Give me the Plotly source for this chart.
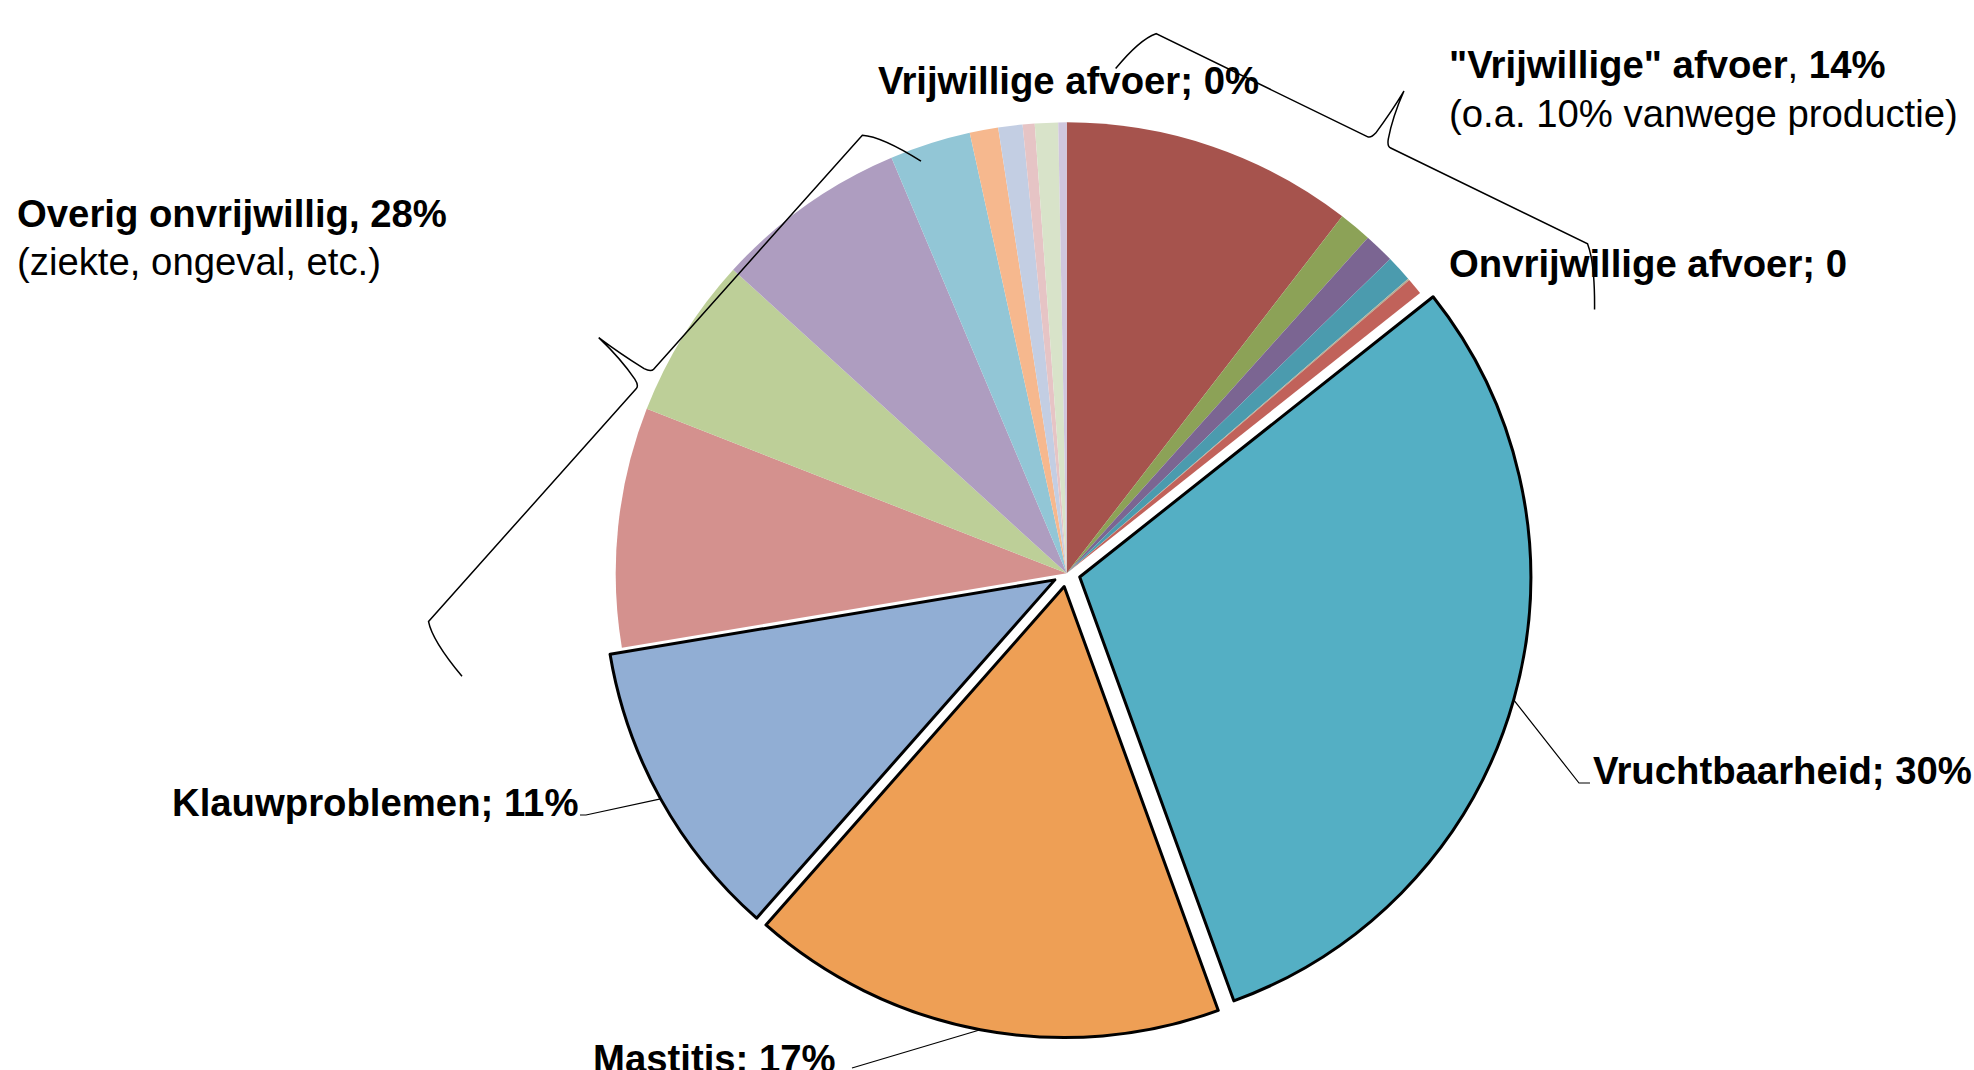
import math
import plotly.graph_objects as go

# ---------------- data ----------------
categories = [
    "Vrijwillig: productie", "Vrijwillig 2", "Vrijwillig 3", "Vrijwillig 4", "Vrijwillig 5", "Vrijwillig 6",
    "Vruchtbaarheid", "Mastitis", "Klauwproblemen",
    "Overig 1", "Overig 2", "Overig 3", "Overig 4", "Overig 5", "Overig 6", "Overig 7", "Overig 8", "Overig 9",
]
values = [10.46, 1.18, 1.09, 0.94, 0.06, 0.60,
          30.12, 17.05, 10.86,
          8.58, 5.81, 6.90, 2.90, 1.02, 0.87, 0.43, 0.83, 0.30]
colors = ["#A6534D", "#8CA257", "#7B6592", "#4B9BAE", "#B3AE94", "#C1625A",
          "#54AFC4", "#EE9F55", "#91AED4",
          "#D4918E", "#BDCF98", "#AE9DC0", "#92C6D6", "#F6B88E", "#C3CEE3", "#E6C4C5", "#D8E3C9", "#CFC6DD"]
pulled = ["Vruchtbaarheid", "Mastitis", "Klauwproblemen"]

label_texts = {
    "vrij0": "<b>Vrijwillige afvoer; 0%</b>",
    "vrij14": "<b>\"Vrijwillige\" afvoer</b>, <b>14%</b>",
    "vrij14b": "(o.a. 10% vanwege productie)",
    "onvrij0": "<b>Onvrijwillige afvoer; 0</b>",
    "overig": "<b>Overig onvrijwillig, 28%</b>",
    "overigb": "(ziekte, ongeval, etc.)",
    "Klauwproblemen": "<b>Klauwproblemen; 11%</b>",
    "Mastitis": "<b>Mastitis; 17%</b>",
    "Vruchtbaarheid": "<b>Vruchtbaarheid; 30%</b>",
}

# ---------------- layout geometry ----------------
W, H = 1974, 1070
CX, CY, R = 1066.7, 573.3, 451.0
PULL = 0.03
FONT = "Liberation Sans, Arial, sans-serif"
FS = 38.3

box = 2 * R * (1 + PULL)
dom_x = [(CX - box / 2) / W, (CX + box / 2) / W]
dom_y = [(H - CY - box / 2) / H, (H - CY + box / 2) / H]

pulls = [PULL if c in pulled else 0 for c in categories]
line_w = [3 if c in pulled else 0 for c in categories]


def px(x, y):
    return x / W, 1 - y / H


total = sum(values)
angles = {}
acc = 0.0
for c, v in zip(categories, values):
    a0 = 360 * acc / total
    acc += v
    angles[c] = (a0, 360 * acc / total)


def arc_mid(cat):
    a0, a1 = angles[cat]
    m = math.radians((a0 + a1) / 2)
    off = (PULL if cat in pulled else 0) * R
    return CX + (R + off) * math.sin(m), CY - (R + off) * math.cos(m)


fig = go.Figure(go.Pie(
    labels=categories, values=values, sort=False, direction="clockwise", rotation=0,
    marker=dict(colors=colors, line=dict(color="black", width=line_w)),
    pull=pulls, textinfo="none", hoverinfo="label+percent", showlegend=False,
    domain=dict(x=dom_x, y=dom_y),
))

shapes = []


def fmt(p):
    x, y = px(*p)
    return f"{x:.5f},{y:.5f}"


def brace(A, B, tip_frac, tip_h, tip_w, hook1, hook2):
    L = math.hypot(B[0] - A[0], B[1] - A[1])
    ux, uy = (B[0] - A[0]) / L, (B[1] - A[1]) / L
    vx, vy = uy, -ux
    mx, my = (A[0] + B[0]) / 2, (A[1] + B[1]) / 2
    if (mx - CX) * vx + (my - CY) * vy < 0:
        vx, vy = -vx, -vy

    def P(u, v):
        return (A[0] + u * ux + v * vx, A[1] + u * uy + v * vy)

    tu = tip_frac * L
    d = (
        f"M {fmt(P(*hook1))} Q {fmt(P(hook1[0] * 0.2, hook1[1] * 0.25))} {fmt(P(10, 0))}"
        f" L {fmt(P(tu - tip_w / 2 - 4, 0))} Q {fmt(P(tu - tip_w / 2, 0))} {fmt(P(tu - tip_w / 2 + 2, tip_h * 0.12))}"
        f" Q {fmt(P(tu - 2, tip_h * 0.6))} {fmt(P(tu, tip_h))}"
        f" Q {fmt(P(tu + 1, tip_h * 0.5))} {fmt(P(tu + tip_w / 2 - 2, tip_h * 0.12))}"
        f" Q {fmt(P(tu + tip_w / 2, 0))} {fmt(P(tu + tip_w / 2 + 4, 0))}"
        f" L {fmt(P(L - 10, 0))} Q {fmt(P(L + hook2[0] * 0.2, hook2[1] * 0.25))} {fmt(P(L + hook2[0], hook2[1]))}"
    )
    shapes.append(dict(type="path", xref="paper", yref="paper", path=d,
                       line=dict(color="black", width=1.5)))


# braces
brace((1147, 29.3), (1596.6, 248.3), 0.516, 57, 18, (-11, -49), (25, -56))
brace((869, 127.7), (421.9, 629.0), 0.501, 62, 18, (-9.7, -61), (8.6, -61.4))


def leader(cat, pts):
    allp = [arc_mid(cat)] + pts
    d = "M " + " L ".join(fmt(p) for p in allp)
    shapes.append(dict(type="path", xref="paper", yref="paper", path=d,
                       line=dict(color="black", width=1.2)))


leader("Vruchtbaarheid", [(1579, 783), (1590, 783)])
leader("Klauwproblemen", [(586, 815), (580, 815)])
leader("Mastitis", [(852, 1068)])

annotations = []


def ann(key, x, y, anchor="left"):
    xx, yy = px(x, y)
    annotations.append(dict(text=label_texts[key], x=xx, y=yy, xref="paper", yref="paper",
                            xanchor=anchor, yanchor="middle", showarrow=False, borderpad=0,
                            font=dict(family=FONT, size=FS, color="black")))


ann("vrij0", 877, 80)
ann("vrij14", 1448, 65)
ann("vrij14b", 1448, 114)
ann("onvrij0", 1448, 263)
ann("overig", 16, 214)
ann("overigb", 16, 261.5)
ann("Klauwproblemen", 579, 802.5, "right")
ann("Mastitis", 592, 1058)
ann("Vruchtbaarheid", 1592, 770)

fig.update_layout(
    width=W, height=H, margin=dict(l=0, r=0, t=0, b=0, pad=0),
    paper_bgcolor="white", plot_bgcolor="white",
    shapes=shapes, annotations=annotations,
    font=dict(family=FONT),
)

fig.write_html("out.html", config={"displayModeBar": False},
               post_script="document.body.style.margin='0';document.body.style.overflow='hidden';")
